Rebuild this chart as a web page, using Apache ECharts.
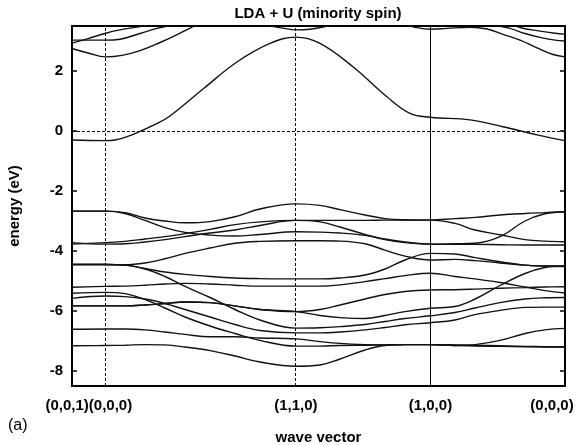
<!DOCTYPE html>
<html><head><meta charset="utf-8">
<script src="https://cdn.jsdelivr.net/npm/echarts@6/dist/echarts.min.js"></script>
<style>html,body{margin:0;padding:0;background:#fff}#c{width:576px;height:445px}</style>
</head><body><div id="c"></div>
<script>
// high-symmetry points along the path (0,0,1)->(0,0,0)->(1,1,0)->(1,0,0)->(0,0,0)
const kSym = [0, 0.25, 1.664, 2.664, 3.664];
// label anchors (the first two points are labelled together, as in the figure)
const kLabelPos = [0.125, 1.664, 2.664, 3.664];
const kLabels = ['(0,0,1)(0,0,0)', '(1,1,0)', '(1,0,0)', '(0,0,0)'];
const yTicks = [-8, -6, -4, -2, 0, 2];

// common k grid for valence bands
const kv = [0, 0.25, 0.394, 0.543, 0.691, 0.840, 1.026, 1.211, 1.397, 1.664,
            1.843, 1.992, 2.178, 2.326, 2.475, 2.664,
            2.846, 2.995, 3.181, 3.367, 3.515, 3.664];

// valence bands (eV)
const v1 = [-2.67,-2.67,-2.72,-2.9,-3.0,-3.06,-3.02,-2.86,-2.6,-2.43, -2.48,-2.62,-2.8,-2.92,-2.96,-2.97, -2.92,-2.88,-2.8,-2.75,-2.72,-2.69];
const v2 = [-2.67,-2.67,-2.75,-2.98,-3.22,-3.38,-3.47,-3.5,-3.45,-3.36, -3.37,-3.4,-3.48,-3.6,-3.7,-3.77, -3.76,-3.74,-3.52,-3.0,-2.76,-2.69];
const v3 = [-3.77,-3.72,-3.68,-3.6,-3.52,-3.42,-3.28,-3.12,-3.03,-2.98, -2.98,-2.98,-2.98,-2.97,-2.97,-2.97, -3.08,-3.3,-3.46,-3.62,-3.67,-3.69];
const v4 = [-3.72,-3.77,-3.76,-3.7,-3.62,-3.52,-3.4,-3.3,-3.15,-2.98, -3.03,-3.2,-3.45,-3.62,-3.72,-3.77, -3.78,-3.78,-3.79,-3.8,-3.8,-3.8];
const v5 = [-4.45,-4.45,-4.46,-4.4,-4.26,-4.08,-3.9,-3.74,-3.68,-3.66, -3.66,-3.67,-3.76,-3.97,-4.17,-4.3, -4.28,-4.32,-4.4,-4.47,-4.5,-4.52];
const l1 = [-4.45,-4.45,-4.47,-4.58,-4.7,-4.78,-4.85,-4.9,-4.92,-4.93, -4.93,-4.9,-4.8,-4.6,-4.3,-4.08, -4.1,-4.22,-4.36,-4.47,-4.5,-4.5];
const l2 = [-5.21,-5.18,-5.17,-5.14,-5.1,-5.08,-5.1,-5.14,-5.17,-5.17, -5.17,-5.13,-5.02,-4.92,-4.82,-4.74, -4.85,-4.93,-5.05,-5.2,-5.32,-5.4];
const l3 = [-4.45,-4.45,-4.47,-4.6,-4.85,-5.18,-5.55,-5.95,-6.3,-6.57, -6.56,-6.52,-6.45,-6.35,-6.25,-6.16, -6.05,-5.9,-5.72,-5.6,-5.56,-5.55];
const l4 = [-5.41,-5.38,-5.42,-5.62,-5.9,-6.2,-6.5,-6.75,-6.98,-7.17, -7.17,-7.15,-7.14,-7.13,-7.12,-7.12, -7.15,-7.17,-7.18,-7.19,-7.2,-7.2];
const l5 = [-5.58,-5.5,-5.52,-5.6,-5.75,-5.95,-6.2,-6.45,-6.65,-6.73, -6.73,-6.7,-6.63,-6.55,-6.46,-6.39, -6.3,-6.12,-5.98,-5.88,-5.87,-5.87];
const l6a = [-5.83,-5.83,-5.83,-5.8,-5.75,-5.7,-5.72,-5.83,-5.95,-6.02, -5.95,-5.8,-5.6,-5.45,-5.35,-5.3, -5.29,-5.27,-5.24,-5.22,-5.2,-5.19];
const l6b = [-5.83,-5.83,-5.83,-5.8,-5.75,-5.7,-5.72,-5.83,-5.95,-6.02, -6.15,-6.22,-6.25,-6.15,-6.02,-5.91, -5.85,-5.6,-5.15,-4.75,-4.55,-4.5];
const l7 = [-6.61,-6.6,-6.6,-6.63,-6.7,-6.78,-6.86,-6.86,-6.9,-6.93, -7.02,-7.08,-7.12,-7.13,-7.12,-7.12, -7.13,-7.14,-7.16,-7.18,-7.19,-7.2];
const l8 = [-7.16,-7.15,-7.14,-7.12,-7.13,-7.2,-7.32,-7.5,-7.7,-7.84, -7.8,-7.6,-7.3,-7.15,-7.12,-7.12, -7.15,-7.12,-6.98,-6.75,-6.63,-6.58];

// conduction bands (own k samples)
const c1k = [0,0.25,0.320,0.409,0.513,0.617,0.728,0.974,1.226,1.472,1.664,1.843,2.088,2.341,2.512,2.664,2.958,3.203,3.456,3.664];
const c1E = [-0.3,-0.32,-0.3,-0.19,0.0,0.22,0.5,1.4,2.3,2.92,3.13,2.92,2.14,1.14,0.59,0.46,0.37,0.14,-0.13,-0.32];
const c2ak = [0,0.119,0.25,0.372,0.505,0.654,0.766,0.899,1.026,1.249];
const c2aE = [2.75,2.6,2.47,2.52,2.68,2.95,3.18,3.48,3.75,4.1];
const c2bk = [2.215,2.438,2.549,2.664,2.787,2.958,3.084,3.203,3.330,3.456,3.575,3.664];
const c2bE = [3.9,3.6,3.46,3.39,3.42,3.46,3.4,3.22,3.03,2.77,2.55,2.47];
const c3k = [0,0.119,0.25,0.357,0.557,0.728];
const c3E = [2.93,3.08,3.26,3.37,3.53,3.75];
const c4k = [0,0.25,0.357,0.505,0.631,0.766,0.914];
const c4E = [3.03,3.03,3.06,3.25,3.42,3.55,3.7];
const c5k = [1.323,1.449,1.568,1.664,1.769,1.880,2.029,2.215];
const c5E = [3.75,3.53,3.43,3.37,3.39,3.48,3.62,3.8];
const c6k = [3.032,3.144,3.255,3.367,3.478,3.590,3.664];
const c6E = [3.7,3.53,3.42,3.25,3.12,3.03,3.0];
const c7k = [3.181,3.330,3.478,3.590,3.664];
const c7E = [3.7,3.45,3.33,3.26,3.23];

const F = '"Liberation Sans", Arial, Helvetica, sans-serif';
const valence = [v1,v2,v3,v4,v5,l1,l2,l3,l4,l5,l6a,l6b,l7,l8];
const conduction = [[c1k,c1E],[c2ak,c2aE],[c2bk,c2bE],[c3k,c3E],[c4k,c4E],[c5k,c5E],[c6k,c6E],[c7k,c7E]];

function bandSeries(data) {
  return {type:'line', data, symbol:'none', smooth:0.4, clip:true,
          lineStyle:{color:'#111', width:1.4}, silent:true, z:3};
}
const series = [];
valence.forEach(b => series.push(bandSeries(kv.map((k,i)=>[k,b[i]]))));
conduction.forEach(([ks,es]) => series.push(bandSeries(ks.map((k,i)=>[k,es[i]]))));
series.push({
  type:'line', data:[], silent:true,
  markLine:{symbol:'none', silent:true, label:{show:false},
    lineStyle:{color:'#000', width:1, type:[3,2]},
    data:[{xAxis:kSym[1]},{xAxis:kSym[2]},
          {xAxis:kSym[3], lineStyle:{type:'solid', width:1}},
          {yAxis:0}]}
});

const txt = {fontFamily:F, fontWeight:'bold', fontSize:15, color:'#000'};
const frameLine = {show:true, onZero:false, lineStyle:{color:'#000', width:2}};
const rich = {
  a:Object.assign({}, txt),
  r:Object.assign({padding:[0,26,0,0]}, txt)
};

const chart = echarts.init(document.getElementById('c'), null, {renderer:'canvas'});
chart.setOption({
  animation:false,
  backgroundColor:'#fff',
  title:{text:'LDA + U (minority spin)', left:313, top:1, textAlign:'center', textStyle:txt},
  graphic:[{type:'text', left:8, top:418, style:{text:'(a)', font:'16px "Liberation Sans", Arial, sans-serif', fill:'#000'}}],
  grid:{left:72, right:11, top:26, bottom:59, containLabel:false, outerBoundsMode:'none'},
  xAxis:[{
    type:'value', min:0, max:kSym[4], position:'bottom',
    name:'wave vector', nameLocation:'middle', nameGap:44, nameTextStyle:txt,
    axisLine:frameLine, axisTick:{show:false}, splitLine:{show:false},
    axisLabel:Object.assign({customValues:kLabelPos, margin:12, hideOverlap:false, rich:rich,
      formatter:function(v){const i=kLabelPos.findIndex(t=>Math.abs(t-v)<1e-6);
        if(i<0) return ''; return (i===kLabels.length-1?'{r|':'{a|')+kLabels[i]+'}';}}, txt)
  },{
    type:'value', min:0, max:kSym[4], position:'top',
    axisLine:frameLine, axisTick:{show:false}, axisLabel:{show:false}, splitLine:{show:false}
  }],
  yAxis:[{
    type:'value', min:-8.5, max:3.5, position:'left',
    name:'energy (eV)', nameLocation:'middle', nameGap:50, nameTextStyle:txt,
    axisLine:frameLine,
    axisTick:{show:true, inside:true, length:5, customValues:yTicks, lineStyle:{color:'#000', width:1.5}},
    axisLabel:Object.assign({customValues:yTicks, margin:9}, txt),
    splitLine:{show:false}
  },{
    type:'value', min:-8.5, max:3.5, position:'right',
    axisLine:frameLine,
    axisTick:{show:true, inside:true, length:5, customValues:yTicks, lineStyle:{color:'#000', width:1.5}},
    axisLabel:{show:false}, splitLine:{show:false}
  }],
  series:series
});
</script></body></html>
